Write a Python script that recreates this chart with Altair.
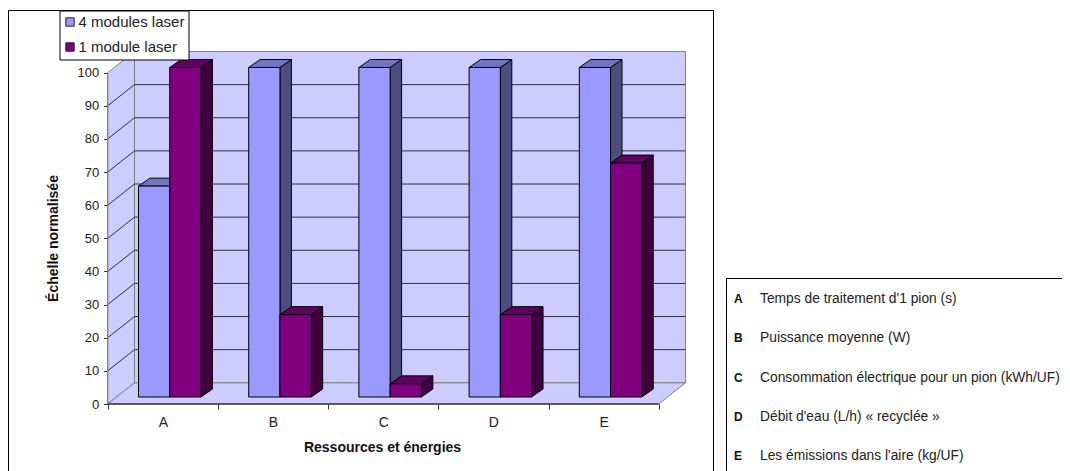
import altair as alt
import pandas as pd

categories = ["A", "B", "C", "D", "E"]
series_names = ["4 modules laser", "1 module laser"]
values_4 = [64, 100, 100, 100, 100]
values_1 = [100, 25, 4, 25, 71]
ticks_y = [0, 10, 20, 30, 40, 50, 60, 70, 80, 90, 100]
notes = [
    "Temps de traitement d'1 pion (s)",
    "Puissance moyenne (W)",
    "Consommation électrique pour un pion (kWh/UF)",
    "Débit d'eau (L/h) « recyclée »",
    "Les émissions dans l'aire (kg/UF)",
]
x_title = "Ressources et énergies"
y_title = "Échelle normalisée"

W, H = 1054, 466
X0_PX, SLOT_PX = 99.7, 110.2
Y0_PX, UNIT_PX = 396.0, 3.313
sx = alt.Scale(domain=[-X0_PX / SLOT_PX, (W - X0_PX) / SLOT_PX], nice=False, zero=False)
sy = alt.Scale(domain=[-(H - Y0_PX) / UNIT_PX, Y0_PX / UNIT_PX], nice=False, zero=False)

WALL_DX, WALL_DY = 0.243, 6.4
BAR_DX, BAR_DY = 0.104, 2.41
BAR_BASE, BAR_SCALE = 2.11, 0.9946
BAR_LEFT, BAR_W = 0.2795, 0.2835
WALL_FILL, WALL_EDGE, GRID = "#CCCCFF", "#808080", "#2e2e44"
SHADES = {
    "4": ("#9999FF", "#7373BF", "#4D4D80"),
    "1": ("#800080", "#600060", "#400040"),
}

faces = []
fid = 0


def add_face(points, fill, edge):
    global fid
    fid += 1
    for px, lo, hi in points:
        faces.append({"x": px, "lo": lo, "hi": hi, "face": f"f{fid:03d}", "fill": fill, "edge": edge})


# walls
add_face([(WALL_DX, WALL_DY, 100 + WALL_DY), (5 + WALL_DX, WALL_DY, 100 + WALL_DY)], WALL_FILL, WALL_EDGE)
add_face([(0, 0, 100), (WALL_DX, WALL_DY, 100 + WALL_DY)], WALL_FILL, WALL_EDGE)
add_face([(0, 0, 0), (WALL_DX, 0, WALL_DY), (5, 0, WALL_DY), (5 + WALL_DX, WALL_DY, WALL_DY)], WALL_FILL, WALL_EDGE)


def add_bar(left, value, key):
    front, top, side = SHADES[key]
    right = left + BAR_W
    b = BAR_BASE
    t = BAR_BASE + value * BAR_SCALE
    add_face([(right, b, t), (right + BAR_DX, b + BAR_DY, t + BAR_DY)], side, "#000000")
    add_face([(left, t, t), (left + BAR_DX, t, t + BAR_DY), (right, t, t + BAR_DY), (right + BAR_DX, t + BAR_DY, t + BAR_DY)], top, "#000000")
    add_face([(left, b, t), (right, b, t)], front, "#000000")


for i in range(len(categories)):
    add_bar(i + BAR_LEFT, values_4[i], "4")
    add_bar(i + BAR_LEFT + BAR_W, values_1[i], "1")

faces_df = pd.DataFrame(faces)

wall_marks = faces_df[faces_df["fill"] == WALL_FILL]
bar_marks = faces_df[faces_df["fill"] != WALL_FILL]

grid_rows = []
for v in ticks_y[1:-1]:
    k = f"g{v}"
    grid_rows += [
        {"x": 0, "y": v, "k": k},
        {"x": WALL_DX, "y": v + WALL_DY, "k": k},
        {"x": 5 + WALL_DX, "y": v + WALL_DY, "k": k},
    ]
grid_df = pd.DataFrame(grid_rows)

X = alt.X("x:Q", scale=sx, title=x_title)
Y = alt.Y("y:Q", scale=sy, title=y_title)


def face_layer(df):
    return alt.Chart(df).mark_area(strokeWidth=1, opacity=1, interpolate="linear", orient="vertical").encode(
        x=X,
        y=alt.Y("lo:Q", scale=sy, title=y_title),
        y2=alt.Y2("hi:Q"),
        fill=alt.Fill("fill:N", scale=None),
        stroke=alt.Stroke("edge:N", scale=None),
        detail="face:N",
    )


walls = face_layer(wall_marks)
grid = alt.Chart(grid_df).mark_line(color=GRID, strokeWidth=1).encode(x=X, y=Y, detail="k:N")
bars = face_layer(bar_marks)

axis_df = pd.DataFrame({"x": [0, 5], "y": [0, 0]})
axis_x_line = alt.Chart(axis_df).mark_line(color="#000000", strokeWidth=1).encode(x=X, y=Y)
axis_y_df = pd.DataFrame({"x": [0, 0], "y": [0, 100]})
axis_y_line = alt.Chart(axis_y_df).mark_line(color="#808080", strokeWidth=1).encode(x=X, y=Y)

# axes carried by an invisible layer
label_expr = "['A','B','C','D','E',''][datum.value]"
axes = alt.Chart(pd.DataFrame({"x": [0], "y": [0]})).mark_point(opacity=0).encode(
    x=alt.X(
        "x:Q",
        scale=sx,
        title=x_title,
        axis=alt.Axis(
            values=[0, 1, 2, 3, 4, 5], labelExpr=label_expr, offset=-(H - Y0_PX), domain=False, grid=False,
            tickSize=5, tickColor="#333333", labelOffset=SLOT_PX / 2, labelPadding=6, labelFontSize=14,
            labelFont="Liberation Sans", labelColor="#222222", labelOverlap=False, labelFlush=False, labelBound=False,
            titleFontSize=14, titleFont="Liberation Sans", titleFontWeight="bold",
            titleX=374, titleY=36, titleColor="#111111",
        ),
    ),
    y=alt.Y(
        "y:Q",
        scale=sy,
        title=y_title,
        axis=alt.Axis(
            values=ticks_y, offset=-X0_PX, domain=False, grid=False, tickSize=4, tickColor="#222222",
            labelPadding=5, labelFontSize=13, labelFont="Liberation Sans", labelColor="#222222",
            labelOverlap=False, labelFlush=False, labelBound=False,
            titleFontSize=14, titleFont="Liberation Sans", titleFontWeight="bold",
            titleX=-47, titleY=230, titleAngle=270, titleColor="#111111",
        ),
    ),
)

# frames
one = pd.DataFrame({"a": [0]})
frames = alt.layer(
    alt.Chart(one).mark_rect(fillOpacity=0, stroke="#000000", strokeWidth=1).encode(
        x=alt.value(0.5), x2=alt.value(705.5), y=alt.value(2.5), y2=alt.value(490)
    ),
    alt.Chart(one).mark_rect(fillOpacity=0, stroke="#000000", strokeWidth=1).encode(
        x=alt.value(718.5), x2=alt.value(1100), y=alt.value(270.5), y2=alt.value(490)
    ),
)

# real legend
legend_src = pd.DataFrame({"series": series_names, "x": [0, 0], "y": [0, 0]})
legend_layer = alt.Chart(legend_src).mark_square(size=0, opacity=1).encode(
    x=X,
    y=Y,
    color=alt.Color(
        "series:N",
        sort=series_names,
        scale=alt.Scale(domain=series_names, range=["#9999FF", "#800080"]),
        legend=alt.Legend(
            orient="none", legendX=51.5, legendY=2.5, title=None, fillColor="#ffffff", strokeColor="#000000",
            symbolType="square", symbolSize=70, symbolStrokeColor="#222222", symbolStrokeWidth=1,
            labelFont="Liberation Sans", labelFontSize=15, labelColor="#222222", labelLimit=200,
            padding=4, rowPadding=9, symbolOffset=-1, labelOffset=1,
        ),
    ),
)

# right-hand notes
notes_df = pd.DataFrame({"letter": categories, "note": notes, "i": range(5)})
letters = alt.Chart(notes_df).transform_calculate(
    py="291 + 39.3 * datum.i"
).mark_text(
    font="Liberation Sans", fontSize=12, fontWeight="bold", align="left", baseline="middle", color="#111111"
).encode(x=alt.value(726), y=alt.value(0), text="letter:N", yOffset=alt.YOffset("py:Q", scale=None))
note_text = alt.Chart(notes_df).transform_calculate(
    py="291 + 39.3 * datum.i"
).mark_text(
    font="Liberation Sans", fontSize=13.8, align="left", baseline="middle", color="#222222"
).encode(x=alt.value(752), y=alt.value(0), text="note:N", yOffset=alt.YOffset("py:Q", scale=None))

chart = alt.layer(
    frames, axes, walls, grid, bars, axis_x_line, axis_y_line, legend_layer, letters, note_text
).properties(
    width=W, height=H, padding=0, autosize=alt.AutoSizeParams(type="none"), background="#ffffff"
).configure_view(stroke=None)

chart.save("out.html", embed_options={"renderer": "svg", "actions": False})
